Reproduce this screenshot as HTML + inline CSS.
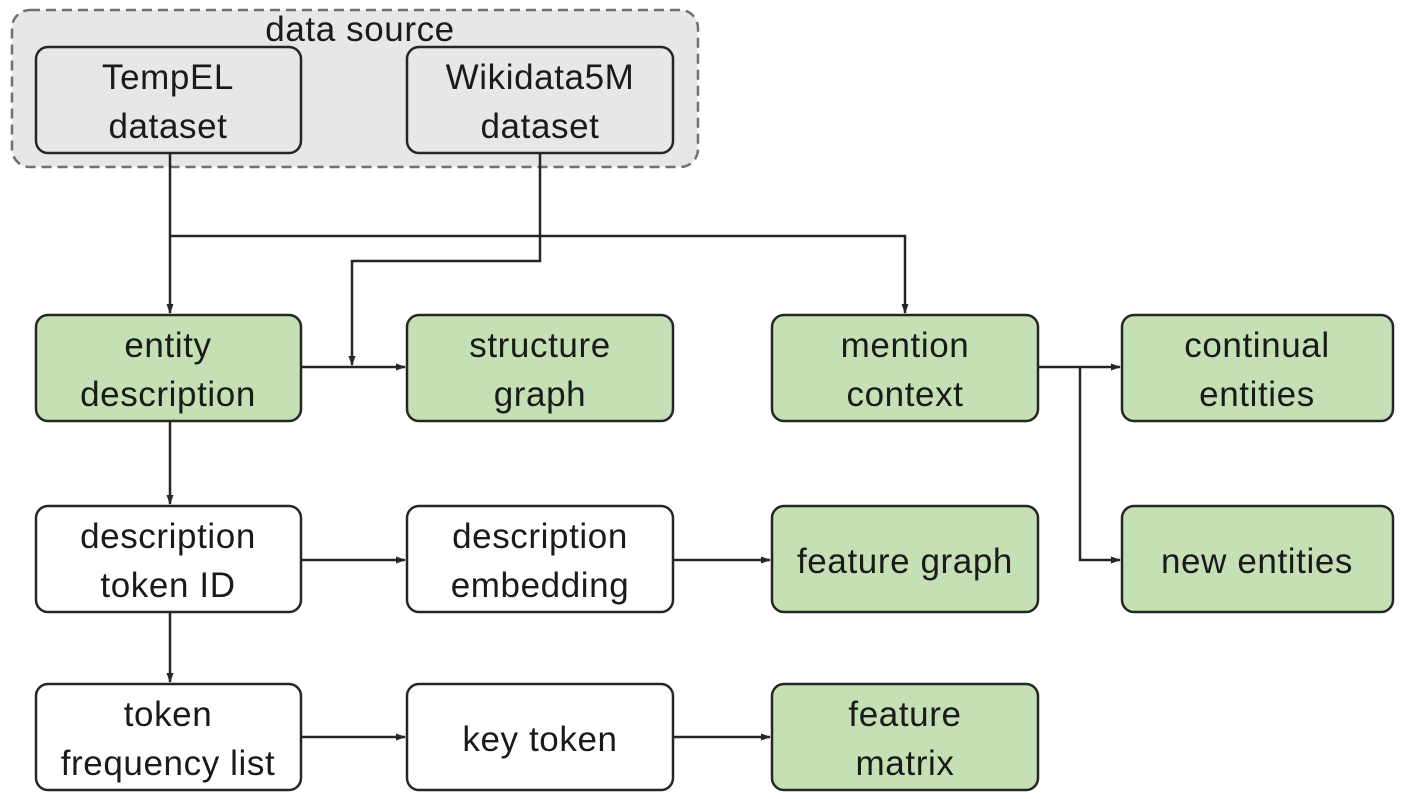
<!DOCTYPE html>
<html><head><meta charset="utf-8"><style>
html,body{margin:0;padding:0;background:#fff;}
svg text{font-family:"Liberation Sans",sans-serif;font-size:35px;letter-spacing:0.6px;fill:#1a1a1a;text-anchor:middle;}
</style></head><body>
<svg width="1412" height="794" viewBox="0 0 1412 794" xmlns="http://www.w3.org/2000/svg">
<defs>
<marker id="a" markerWidth="10" markerHeight="10" refX="9" refY="5" orient="auto" markerUnits="userSpaceOnUse">
<path d="M0,1.5 L10,5 L0,8.5 z" fill="#262626"/></marker>
</defs>
<rect x="12" y="10" width="686" height="157" rx="18" fill="#e7e7e7" stroke="#707070" stroke-width="2.5" stroke-dasharray="10,6"/>
<text x="360" y="41">data source</text>
<g stroke="#262626" stroke-width="2.5">
<rect x="36" y="47" width="265" height="106" rx="12" fill="#e7e7e7"/>
<rect x="407" y="47" width="266" height="106" rx="12" fill="#e7e7e7"/>
<rect x="36" y="315" width="265" height="106" rx="12" fill="#c5e0b4"/>
<rect x="407" y="315" width="266" height="106" rx="12" fill="#c5e0b4"/>
<rect x="772" y="315" width="266" height="106" rx="12" fill="#c5e0b4"/>
<rect x="1122" y="315" width="271" height="106" rx="12" fill="#c5e0b4"/>
<rect x="36" y="506" width="265" height="106" rx="12" fill="#fff"/>
<rect x="407" y="506" width="266" height="106" rx="12" fill="#fff"/>
<rect x="772" y="506" width="266" height="106" rx="12" fill="#c5e0b4"/>
<rect x="1122" y="506" width="271" height="106" rx="12" fill="#c5e0b4"/>
<rect x="36" y="684" width="265" height="106" rx="12" fill="#fff"/>
<rect x="407" y="684" width="266" height="106" rx="12" fill="#fff"/>
<rect x="772" y="684" width="266" height="106" rx="12" fill="#c5e0b4"/>
</g>
<g fill="none" stroke="#262626" stroke-width="2.5">
<path d="M170,153 V313" marker-end="url(#a)"/>
<path d="M170,236 H905 V313" marker-end="url(#a)"/>
<path d="M540,153 V261 H352 V365" marker-end="url(#a)"/>
<path d="M301,367 H405" marker-end="url(#a)"/>
<path d="M1038,367 H1120" marker-end="url(#a)"/>
<path d="M1080,367 V560 H1120" marker-end="url(#a)"/>
<path d="M170,421 V504" marker-end="url(#a)"/>
<path d="M301,560 H405" marker-end="url(#a)"/>
<path d="M673,560 H770" marker-end="url(#a)"/>
<path d="M170,612 V682" marker-end="url(#a)"/>
<path d="M301,737 H405" marker-end="url(#a)"/>
<path d="M673,737 H770" marker-end="url(#a)"/>
</g>
<text x="168" y="89">TempEL</text><text x="168" y="138">dataset</text>
<text x="540" y="89">Wikidata5M</text><text x="540" y="138">dataset</text>
<text x="168" y="357">entity</text><text x="168" y="406">description</text>
<text x="540" y="357">structure</text><text x="540" y="406">graph</text>
<text x="905" y="357">mention</text><text x="905" y="406">context</text>
<text x="1257" y="357">continual</text><text x="1257" y="406">entities</text>
<text x="168" y="548">description</text><text x="168" y="597">token ID</text>
<text x="540" y="548">description</text><text x="540" y="597">embedding</text>
<text x="905" y="573">feature graph</text>
<text x="1257" y="573">new entities</text>
<text x="168" y="726">token</text><text x="168" y="775">frequency list</text>
<text x="540" y="751">key token</text>
<text x="905" y="726">feature</text><text x="905" y="775">matrix</text>
</svg>
</body></html>
